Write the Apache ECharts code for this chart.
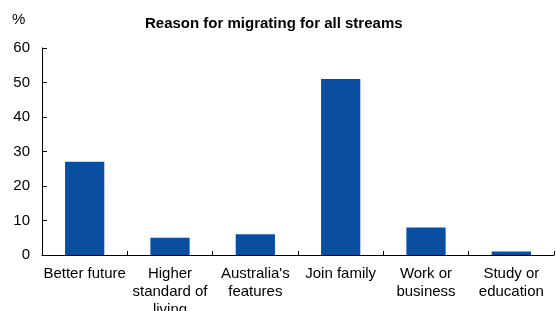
<!DOCTYPE html>
<html>
<head>
<meta charset="utf-8">
<script src="https://cdn.jsdelivr.net/npm/echarts@6/dist/echarts.min.js"></script>
<style>
  html, body { margin: 0; padding: 0; background: #fff; overflow: hidden; }
  #chart { width: 557px; height: 311px; }
</style>
</head>
<body>
<div id="chart"></div>
<script>
// Data
var categories = ['Better future', 'Higher\nstandard of\nliving', "Australia's\nfeatures", 'Join family', 'Work or\nbusiness', 'Study or\neducation'];
var shares = [27, 5, 6, 51, 8, 1];
var yTicks = [0, 10, 20, 30, 40, 50, 60];

var chart = echarts.init(document.getElementById('chart'));
var font = 'Arial, "Liberation Sans", sans-serif';

var option = {
    animation: false,
    title: {
        text: 'Reason for migrating for all streams',
        left: 140,
        top: 11,
        textStyle: { fontFamily: font, fontSize: 15, fontWeight: 'bold', color: '#000' }
    },
    graphic: [{
        type: 'text',
        left: 12,
        top: 12,
        style: { text: '%', font: '15px ' + font, fill: '#000' }
    }],
    grid: { left: 42, right: 3, top: 48, bottom: 56, containLabel: false, outerBoundsMode: 'none' },
    xAxis: {
        type: 'category',
        data: categories,
        axisLine: { lineStyle: { color: '#000', width: 1 } },
        axisTick: { show: true, inside: true, length: 4, lineStyle: { color: '#000' } },
        axisLabel: { color: '#000', fontFamily: font, fontSize: 15, lineHeight: 18, margin: 10, interval: 0 }
    },
    yAxis: {
        type: 'value',
        min: yTicks[0],
        max: yTicks[yTicks.length - 1],
        interval: 10,
        axisLine: { show: true, lineStyle: { color: '#000', width: 1 } },
        axisTick: { show: true, inside: true, length: 5, lineStyle: { color: '#000' } },
        axisLabel: { color: '#000', fontFamily: font, fontSize: 15, margin: 12 },
        splitLine: { show: false }
    },
    series: [{
        type: 'bar',
        data: shares,
        barWidth: '46%',
        itemStyle: { color: '#0a4ea2' }
    }]
};
chart.setOption(option);
</script>
</body>
</html>
